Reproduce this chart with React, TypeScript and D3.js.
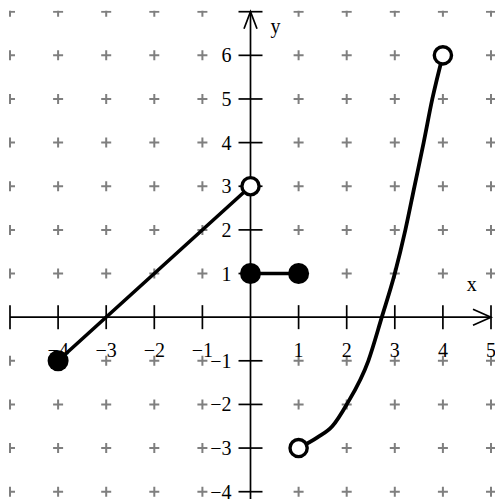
import React from 'react';
import * as d3 from 'd3';

// piece 1: line from (-4,-1) closed to (0,3) open
const lineX = [-4, 0];
const lineY = [-1, 3];
// piece 2: flat segment, both ends closed
const flatX = [0, 1];
const flatY = [1, 1];
// piece 3: curve from (1,-3) open to (4,6) open
const curveX = [1, 1.4, 1.7, 2, 2.45, 2.73, 3, 3.22, 3.41, 3.6, 3.78, 4];
const curveY = [-3, -2.75, -2.5, -2, -1, 0, 1, 2, 3, 4, 5, 6];

const closedDots = [[-4, -1], [0, 1], [1, 1]];
const openDots = [[0, 3], [1, -3], [4, 6]];

const xTicks = [-4, -3, -2, -1, 1, 2, 3, 4, 5];
const yTicks = [-4, -3, -2, -1, 1, 2, 3, 4, 5, 6];

const W = 495;
const H = 499;
const FONT = '"Liberation Serif", "Times New Roman", serif';

const App = () => {
  const x = d3.scaleLinear().domain([-5, 5]).range([10, 491]);
  const y = d3.scaleLinear().domain([-4, 7]).range([491.7, 11.7]);
  const fmt = y.tickFormat(10, 'd');

  const gridX = d3.range(-5, 6);
  const gridY = d3.range(-4, 8);

  const straight = d3.line<number>().x(i => x(lineX[i])).y(i => y(lineY[i]));
  const flat = d3.line<number>().x(i => x(flatX[i])).y(i => y(flatY[i]));
  const curve = d3.line<number>()
    .x(i => x(curveX[i]))
    .y(i => y(curveY[i]))
    .curve(d3.curveMonotoneX);

  const x0 = x(0);
  const y0 = y(0);

  return (
    <svg
      width={W}
      height={H}
      style={{ position: 'absolute', left: 0, top: 0, background: '#fff' }}
    >
      <defs>
        <clipPath id="gridClip">
          <rect x={x(-5) - 1} y={y(7) - 1} width={W} height={H} />
        </clipPath>
      </defs>

      {/* gray plus marks */}
      <g clipPath="url(#gridClip)" stroke="#7f7f7f" strokeWidth={2}>
        {gridX.filter(gx => gx !== 0).map(gx =>
          gridY.filter(gy => gy !== 0).map(gy => (
            <g key={`${gx}_${gy}`}>
              <line x1={x(gx) - 5} x2={x(gx) + 5} y1={y(gy)} y2={y(gy)} />
              <line x1={x(gx)} x2={x(gx)} y1={y(gy) - 5} y2={y(gy) + 5} />
            </g>
          ))
        )}
      </g>

      {/* axes */}
      <g stroke="#000" strokeWidth={1.7} fill="none">
        <line x1={x(-5)} x2={x(5)} y1={y0} y2={y0} />
        <line x1={x0} x2={x0} y1={y(-4.2)} y2={y(7)} />
        {gridX.filter(v => v !== 0).map(v => (
          <line key={'xt' + v} x1={x(v)} x2={x(v)} y1={y0 - 12} y2={y0 + 12} />
        ))}
        {gridY.filter(v => v !== 0).map(v => (
          <line key={'yt' + v} x1={x0 - 12} x2={x0 + 12} y1={y(v)} y2={y(v)} />
        ))}
        <polyline points={`${x(5) - 18},${y0 - 8} ${x(5)},${y0} ${x(5) - 18},${y0 + 8}`} />
        <polyline points={`${x0 - 6.5},${y(7) + 17} ${x0},${y(7)} ${x0 + 6.5},${y(7) + 17}`} />
      </g>

      {/* tick labels */}
      <g fontFamily={FONT} fontSize={20} fill="#000">
        {xTicks.map(v => (
          <text key={'xl' + v} x={x(v)} y={y0 + 40} textAnchor="middle">{fmt(v)}</text>
        ))}
        {yTicks.map(v => (
          <text key={'yl' + v} x={x0 - 19} y={y(v) + 7} textAnchor="end">{fmt(v)}</text>
        ))}
        <text x={x(4.6)} y={y0 - 26} textAnchor="middle">x</text>
        <text x={x0 + 20} y={33}>y</text>
      </g>

      {/* graph pieces */}
      <g fill="none" stroke="#000" strokeLinecap="round" strokeLinejoin="round">
        <path d={straight(d3.range(lineX.length)) || ''} strokeWidth={3.6} />
        <path d={flat(d3.range(flatX.length)) || ''} strokeWidth={3.4} />
        <path d={curve(d3.range(curveX.length)) || ''} strokeWidth={3.8} />
      </g>

      {closedDots.map(([cx, cy]) => (
        <circle key={'c' + cx + cy} cx={x(cx)} cy={y(cy)} r={10.5} fill="#000" />
      ))}
      {openDots.map(([cx, cy]) => (
        <circle
          key={'o' + cx + cy}
          cx={x(cx)}
          cy={y(cy)}
          r={8.6}
          fill="#fff"
          stroke="#000"
          strokeWidth={3.4}
        />
      ))}
    </svg>
  );
};

export default App;
